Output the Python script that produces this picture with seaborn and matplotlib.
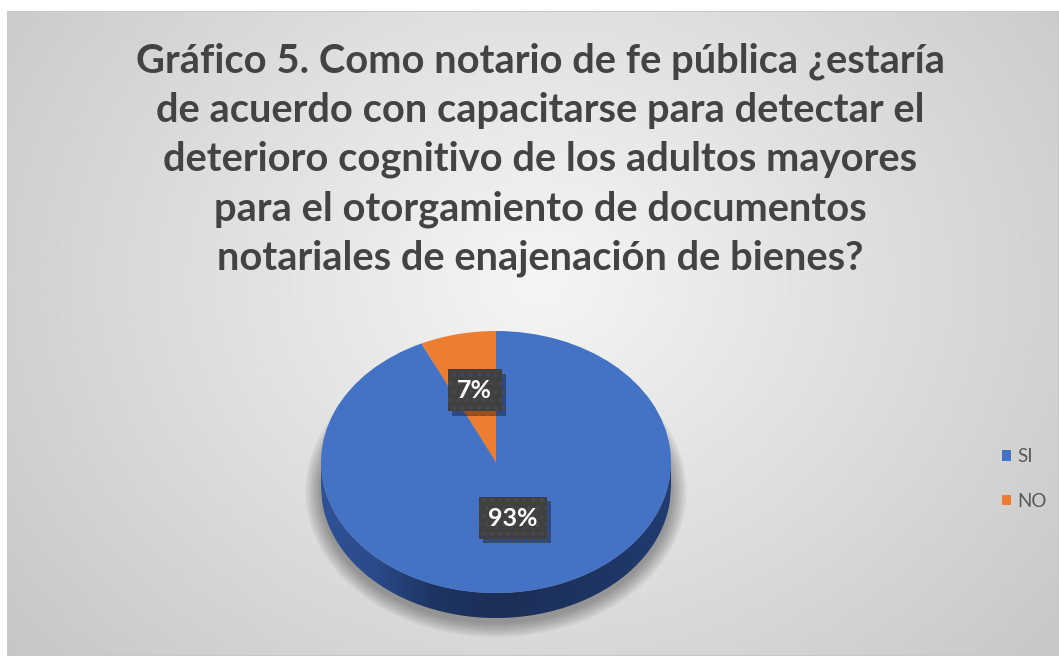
import numpy as np
import matplotlib
matplotlib.use("Agg")
import matplotlib.pyplot as plt
import seaborn as sns
from matplotlib.patches import Ellipse, Polygon
import matplotlib.patheffects as pe

# ---- data ----
categories = ["SI", "NO"]
values = [93, 7]
title_lines = [
    "Gráfico 5. Como notario de fe pública ¿estaría",
    "de acuerdo con capacitarse para detectar el",
    "deterioro cognitivo de los adultos mayores",
    "para el otorgamiento de documentos",
    "notariales de enajenación de bienes?",
]

sns.set_theme(style="white")
plt.rcParams['font.family'] = ['Lato', 'DejaVu Sans']
plt.rcParams['hatch.linewidth'] = 1.2

top_colors = ["#4472C4", "#ED7D31"]
title_color = "#434343"

W, H = 1059, 656
fig = plt.figure(figsize=(W / 100, H / 100), dpi=100)
fig.patch.set_facecolor("white")

# ---- background with radial gradient ----
bg = fig.add_axes([7 / W, 0, 1 - 7 / W, 1 - 11 / H])
bg.set_axis_off()
px = np.linspace(7, 1059, 400)
py = np.linspace(11, 656, 260)
X, Y = np.meshgrid(px, py)
R = np.sqrt(((X - 540) / 560) ** 2 + ((Y - 280) / 480) ** 2)
val = np.clip(245 - 38 * R, 185, 245) / 255.0
bg.imshow(val, cmap="gray", vmin=0, vmax=1, extent=[0, 1, 0, 1], aspect="auto", origin="upper")
bg.set_xlim(0, 1)
bg.set_ylim(0, 1)
bg.add_patch(plt.Rectangle((0, 0), 1, 1, fill=False, ec="#c8c8c8", lw=1.5, transform=bg.transAxes))

# ---- title ----
fig.text(540 / W, 1 - 43 / H, "\n".join(title_lines), ha="center", va="top",
         fontsize=28.7, fontweight="bold", color=title_color, linespacing=1.39)

# ---- pie (3D look) ----
cx, cy, rx, ry, depth = 496, 462, 175, 131, 25
d = depth / ry
ax = fig.add_axes([(cx - rx) / W, (H - (cy + ry + depth)) / H, 2 * rx / W, (2 * ry + depth) / H])

# soft shadow
for k in range(9):
    grow = 0.18 - k * 0.02
    ax.add_patch(Ellipse((0, -d - 0.03), 2 + grow * 1.0, 2 + grow * 1.3, fc="black",
                         ec="none", alpha=0.04, zorder=0, clip_on=False))

# side of the cylinder (gradient clipped to band)
xs = np.linspace(-1, 1, 300)
top_arc = -np.sqrt(1 - xs ** 2)
pts = np.concatenate([np.c_[xs, top_arc], np.c_[xs[::-1], top_arc[::-1] - d]])
band = Polygon(pts, closed=True, fc="none", ec="none", zorder=1)
ax.add_patch(band)
grad_pos = [-1.0, -0.7, -0.35, 0.0, 0.5, 1.0]
grad_r = [0x2f, 0x2a, 0x1e, 0x1c, 0x1d, 0x22]
grad_g = [0x52, 0x4a, 0x34, 0x2f, 0x33, 0x3c]
grad_b = [0x98, 0x8a, 0x62, 0x58, 0x60, 0x70]
gx = np.linspace(-1, 1, 400)
grad = np.stack([np.interp(gx, grad_pos, grad_r), np.interp(gx, grad_pos, grad_g),
                 np.interp(gx, grad_pos, grad_b)], axis=-1)[None, :, :] / 255.0
im = ax.imshow(grad, extent=[-1, 1, -1 - d, 0], aspect="auto", zorder=1)
im.set_clip_path(band)

wedges, texts, autotexts = ax.pie(values, colors=top_colors, startangle=90, counterclock=False,
                                  autopct="%1.0f%%", pctdistance=0.5, radius=1,
                                  wedgeprops=dict(linewidth=0, zorder=2),
                                  textprops=dict(color="white", fontsize=18, fontweight="bold"))
ax.set_aspect("auto")
ax.set_xlim(-1, 1)
ax.set_ylim(-1 - d, 1)
ax.set_axis_off()

label_dist = [0.44, 0.56]
for w, t, ld in zip(wedges, autotexts, label_dist):
    ang = np.deg2rad((w.theta1 + w.theta2) / 2)
    t.set_position((ld * np.cos(ang), ld * np.sin(ang)))
    t.set_zorder(5)
    t.set_bbox(dict(boxstyle="square,pad=0.38", fc="#404040", ec="#4a4a4a", lw=0, hatch=".."))
    t.get_bbox_patch().set_path_effects([
        pe.SimplePatchShadow(offset=(3, -3), shadow_rgbFace="black", alpha=0.35), pe.Normal()])

# ---- legend ----
leg = fig.legend(wedges, categories, loc="center left", bbox_to_anchor=(1002 / W, 1 - 479 / H),
                 frameon=False, fontsize=13.5, handlelength=0.5, handleheight=0.5,
                 handletextpad=0.3, labelspacing=1.45, borderpad=0, borderaxespad=0)
for txt in leg.get_texts():
    txt.set_color("#595959")

fig.savefig("out.png", dpi=100)
